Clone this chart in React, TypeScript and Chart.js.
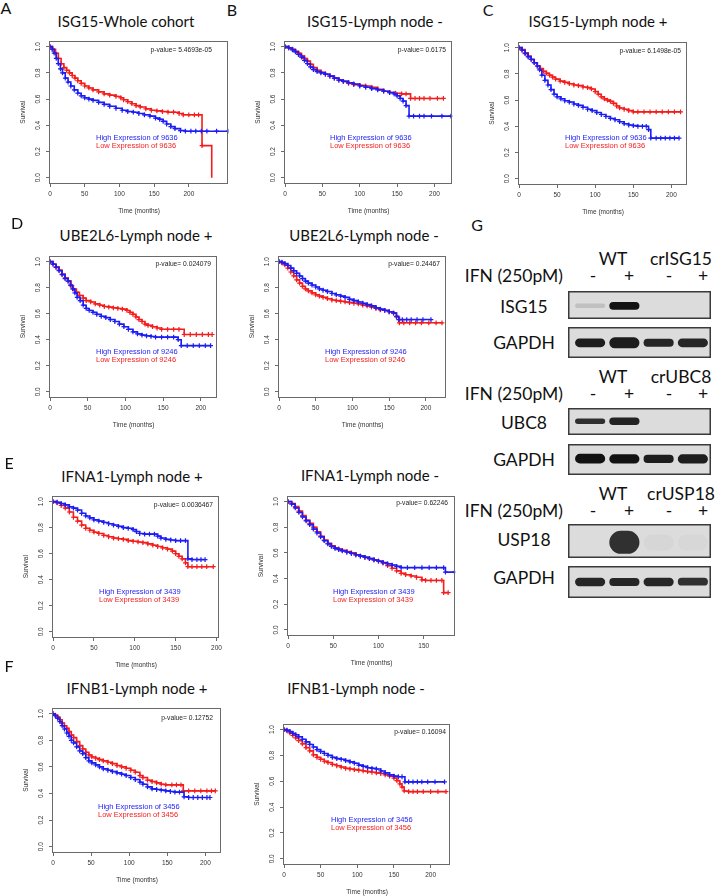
import React, { useEffect, useRef } from 'react';
import { Chart, registerables } from 'chart.js';

Chart.register(...registerables);

type Pt = [number, number];

// ---------- Kaplan-Meier data: [time (months), survival] ----------
const A_HIGH: Pt[] = [[0,1],[3,0.98],[6,0.95],[9,0.91],[12,0.87],[15,0.83],[18,0.8],[22,0.76],[26,0.73],[30,0.7],[35,0.67],[40,0.645],[45,0.625],[50,0.61],[56,0.6],[62,0.59],[70,0.575],[78,0.56],[86,0.545],[95,0.53],[104,0.515],[112,0.505],[120,0.5],[128,0.49],[136,0.48],[144,0.47],[152,0.455],[158,0.445],[163,0.43],[168,0.41],[174,0.39],[180,0.375],[188,0.36],[195,0.355],[203,0.355],[210,0.355],[218,0.355],[226,0.355],[240,0.355],[257,0.355]];
const A_LOW: Pt[] = [[0,1],[4,0.98],[8,0.95],[12,0.91],[16,0.87],[20,0.84],[24,0.82],[28,0.8],[32,0.78],[36,0.76],[40,0.74],[45,0.72],[50,0.7],[56,0.685],[62,0.67],[70,0.655],[78,0.64],[86,0.63],[95,0.62],[102,0.61],[106,0.595],[112,0.58],[118,0.565],[124,0.55],[130,0.54],[138,0.525],[146,0.515],[154,0.51],[162,0.505],[170,0.5],[178,0.5],[186,0.49],[192,0.48],[200,0.48],[208,0.48],[214,0.48],[219,0.245],[233,0]];

const B_HIGH: Pt[] = [[0,1],[5,0.99],[10,0.975],[14,0.96],[18,0.94],[22,0.92],[26,0.895],[30,0.87],[34,0.845],[38,0.825],[43,0.81],[48,0.8],[54,0.79],[60,0.775],[66,0.76],[72,0.745],[78,0.735],[85,0.725],[92,0.715],[100,0.7],[108,0.69],[116,0.68],[124,0.67],[132,0.66],[140,0.65],[146,0.64],[150,0.625],[154,0.605],[158,0.585],[162,0.55],[166,0.47],[172,0.47],[180,0.47],[186,0.47],[196,0.47],[210,0.47],[222,0.47]];
const B_LOW: Pt[] = [[0,1],[5,0.99],[10,0.98],[14,0.965],[18,0.95],[22,0.93],[26,0.91],[30,0.89],[34,0.865],[38,0.84],[43,0.82],[48,0.805],[54,0.79],[60,0.775],[66,0.76],[72,0.745],[78,0.735],[85,0.72],[92,0.71],[100,0.705],[108,0.7],[116,0.69],[124,0.675],[132,0.66],[140,0.65],[148,0.645],[156,0.64],[162,0.64],[168,0.605],[174,0.605],[180,0.605],[186,0.605],[194,0.605],[204,0.605],[212,0.605]];

const C_HIGH: Pt[] = [[0,1],[4,0.98],[8,0.955],[12,0.93],[16,0.91],[20,0.885],[24,0.86],[27,0.83],[30,0.79],[34,0.75],[38,0.715],[42,0.68],[46,0.645],[50,0.625],[55,0.61],[60,0.595],[66,0.585],[72,0.57],[78,0.56],[84,0.545],[90,0.53],[96,0.52],[102,0.505],[108,0.49],[114,0.475],[120,0.46],[126,0.45],[132,0.435],[138,0.42],[144,0.41],[150,0.405],[156,0.4],[162,0.4],[167,0.4],[170,0.375],[173,0.31],[180,0.31],[186,0.31],[192,0.31],[198,0.31],[204,0.31],[210,0.31]];
const C_LOW: Pt[] = [[0,1],[4,0.985],[8,0.96],[12,0.935],[16,0.91],[20,0.885],[24,0.86],[28,0.84],[32,0.82],[36,0.805],[40,0.79],[44,0.775],[48,0.76],[54,0.745],[60,0.735],[66,0.725],[72,0.715],[78,0.71],[84,0.7],[90,0.695],[95,0.685],[100,0.665],[104,0.645],[108,0.625],[112,0.61],[116,0.6],[120,0.59],[124,0.575],[128,0.555],[132,0.54],[138,0.53],[144,0.52],[150,0.51],[156,0.51],[164,0.51],[172,0.51],[180,0.51],[188,0.51],[196,0.51],[204,0.51],[212,0.51]];

const D_HIGH: Pt[] = [[0,1],[4,0.98],[8,0.955],[12,0.93],[16,0.9],[20,0.87],[24,0.85],[27,0.82],[30,0.79],[33,0.76],[36,0.725],[40,0.7],[44,0.665],[48,0.64],[52,0.625],[57,0.61],[62,0.595],[68,0.58],[74,0.57],[80,0.555],[86,0.54],[92,0.52],[98,0.5],[104,0.48],[110,0.46],[116,0.445],[122,0.435],[128,0.43],[134,0.425],[140,0.42],[148,0.42],[156,0.42],[164,0.42],[170,0.4],[174,0.355],[182,0.355],[190,0.355],[198,0.355],[206,0.355],[213,0.355]];
const D_LOW: Pt[] = [[0,1],[4,0.98],[8,0.96],[12,0.935],[16,0.905],[20,0.875],[24,0.85],[28,0.815],[31,0.79],[35,0.765],[39,0.74],[44,0.72],[48,0.7],[54,0.69],[60,0.675],[66,0.665],[72,0.655],[78,0.65],[84,0.645],[90,0.64],[96,0.635],[102,0.625],[106,0.61],[110,0.595],[114,0.575],[118,0.555],[122,0.54],[126,0.52],[130,0.51],[136,0.5],[142,0.49],[148,0.48],[156,0.48],[164,0.48],[171,0.48],[178,0.44],[186,0.44],[194,0.44],[202,0.44],[210,0.44],[215,0.44]];

const D2_HIGH: Pt[] = [[0,1],[4,0.995],[8,0.985],[12,0.97],[16,0.95],[20,0.93],[24,0.91],[28,0.89],[32,0.87],[36,0.85],[40,0.835],[45,0.82],[50,0.805],[55,0.79],[60,0.78],[66,0.77],[72,0.755],[78,0.745],[84,0.735],[90,0.725],[96,0.71],[102,0.7],[108,0.69],[114,0.68],[120,0.67],[126,0.66],[132,0.645],[138,0.635],[144,0.625],[150,0.615],[156,0.605],[160,0.58],[163,0.555],[168,0.555],[174,0.555],[180,0.555],[188,0.555],[196,0.555],[207,0.555]];
const D2_LOW: Pt[] = [[0,1],[4,0.99],[8,0.975],[12,0.95],[16,0.92],[20,0.89],[24,0.86],[28,0.835],[32,0.81],[36,0.79],[40,0.775],[45,0.76],[50,0.745],[55,0.735],[60,0.725],[66,0.715],[72,0.705],[78,0.7],[84,0.695],[90,0.69],[96,0.685],[102,0.68],[108,0.675],[114,0.665],[120,0.66],[126,0.65],[132,0.64],[138,0.63],[144,0.625],[150,0.615],[156,0.605],[160,0.575],[164,0.53],[170,0.53],[178,0.53],[186,0.53],[194,0.53],[204,0.53],[214,0.53],[222,0.53]];

const E1_HIGH: Pt[] = [[0,1],[5,0.995],[10,0.985],[15,0.975],[20,0.96],[25,0.95],[30,0.935],[35,0.91],[40,0.89],[45,0.875],[50,0.86],[56,0.85],[62,0.84],[68,0.83],[74,0.82],[80,0.81],[86,0.8],[92,0.795],[98,0.785],[102,0.77],[106,0.755],[112,0.75],[118,0.75],[124,0.75],[128,0.735],[132,0.72],[138,0.71],[144,0.705],[150,0.7],[156,0.7],[162,0.7],[165,0.56],[170,0.555],[176,0.555],[181,0.555],[186,0.555]];
const E1_LOW: Pt[] = [[0,1],[5,0.99],[10,0.97],[15,0.95],[20,0.92],[25,0.88],[30,0.85],[35,0.82],[40,0.795],[45,0.78],[50,0.765],[56,0.755],[62,0.74],[68,0.73],[74,0.72],[80,0.715],[86,0.71],[92,0.7],[98,0.695],[104,0.69],[110,0.685],[116,0.675],[122,0.665],[128,0.655],[134,0.645],[140,0.635],[146,0.62],[150,0.6],[154,0.58],[158,0.56],[162,0.53],[165,0.5],[170,0.5],[176,0.5],[182,0.5],[188,0.5],[196,0.5]];

const E2_HIGH: Pt[] = [[0,1],[4,0.98],[8,0.95],[12,0.915],[16,0.88],[20,0.85],[24,0.82],[28,0.785],[32,0.755],[36,0.725],[40,0.695],[44,0.67],[48,0.65],[52,0.635],[56,0.625],[60,0.615],[65,0.605],[70,0.595],[75,0.585],[80,0.575],[85,0.565],[90,0.555],[95,0.545],[100,0.535],[105,0.525],[110,0.515],[115,0.505],[120,0.495],[125,0.485],[132,0.485],[140,0.485],[148,0.485],[156,0.485],[164,0.485],[172,0.485],[174,0.45],[184,0.45]];
const E2_LOW: Pt[] = [[0,1],[4,0.985],[8,0.96],[12,0.925],[16,0.89],[20,0.855],[24,0.83],[28,0.8],[32,0.765],[36,0.73],[40,0.7],[44,0.675],[48,0.655],[52,0.64],[56,0.63],[60,0.62],[65,0.61],[70,0.6],[75,0.585],[80,0.575],[85,0.565],[90,0.555],[95,0.545],[100,0.535],[105,0.52],[110,0.5],[115,0.48],[120,0.46],[125,0.44],[130,0.43],[136,0.42],[142,0.41],[148,0.39],[152,0.385],[158,0.385],[164,0.385],[170,0.385],[172,0.29],[177,0.29]];

const F1_HIGH: Pt[] = [[0,1],[3,0.985],[6,0.965],[9,0.94],[12,0.91],[15,0.885],[18,0.855],[21,0.83],[24,0.8],[27,0.78],[31,0.75],[35,0.72],[39,0.7],[43,0.67],[47,0.645],[51,0.63],[56,0.615],[61,0.6],[66,0.585],[72,0.575],[78,0.565],[84,0.555],[90,0.545],[96,0.535],[102,0.52],[108,0.505],[114,0.485],[118,0.47],[124,0.45],[130,0.435],[136,0.43],[142,0.425],[148,0.42],[154,0.415],[160,0.41],[166,0.41],[172,0.375],[178,0.37],[184,0.37],[190,0.37],[196,0.37],[202,0.37],[206,0.37]];
const F1_LOW: Pt[] = [[0,1],[3,0.99],[6,0.975],[9,0.955],[12,0.93],[15,0.91],[18,0.89],[21,0.865],[24,0.84],[27,0.82],[31,0.79],[35,0.76],[39,0.735],[43,0.71],[47,0.69],[51,0.675],[56,0.665],[61,0.655],[66,0.645],[72,0.635],[78,0.625],[84,0.61],[90,0.6],[96,0.59],[102,0.575],[108,0.56],[114,0.535],[118,0.52],[124,0.5],[130,0.49],[136,0.48],[142,0.47],[148,0.465],[156,0.465],[162,0.465],[168,0.465],[171,0.42],[178,0.42],[186,0.42],[194,0.42],[202,0.42],[208,0.42],[213,0.42]];

const F2_HIGH: Pt[] = [[0,1],[4,0.995],[8,0.985],[12,0.97],[16,0.96],[20,0.945],[25,0.925],[30,0.905],[35,0.885],[40,0.865],[45,0.845],[50,0.83],[55,0.815],[60,0.8],[66,0.785],[72,0.775],[78,0.77],[84,0.76],[90,0.75],[96,0.74],[102,0.725],[108,0.715],[114,0.705],[120,0.7],[126,0.695],[132,0.68],[138,0.665],[144,0.65],[150,0.64],[156,0.635],[161,0.635],[165,0.595],[170,0.595],[176,0.595],[182,0.595],[188,0.595],[196,0.595],[206,0.595],[219,0.595]];
const F2_LOW: Pt[] = [[0,1],[4,0.99],[8,0.975],[12,0.955],[16,0.935],[20,0.915],[25,0.89],[30,0.86],[35,0.835],[40,0.805],[45,0.785],[50,0.77],[55,0.755],[60,0.745],[66,0.73],[72,0.72],[78,0.71],[84,0.7],[90,0.695],[96,0.69],[102,0.685],[108,0.68],[114,0.675],[120,0.67],[126,0.665],[132,0.66],[138,0.65],[144,0.64],[150,0.625],[154,0.605],[158,0.58],[161,0.555],[164,0.525],[170,0.52],[176,0.52],[182,0.52],[190,0.52],[200,0.52],[210,0.52],[221,0.52]];

// ---------- tick labels ----------
const Y_TICKS = [0, 0.2, 0.4, 0.6, 0.8, 1.0];
const X_TICKS_200 = [0, 50, 100, 150, 200];
const X_TICKS_150 = [0, 50, 100, 150];

// ---------- Western blot data ----------
const LANES = ['WT -', 'WT +', 'KO -', 'KO +'];
const ISG15_INT = [0.14, 1, 0, 0];
const ISG15_BAND: Pt[] = [[0.38, 0.56], [0.32, 0.62], [0.4, 0.6], [0.4, 0.6]];
const GAPDH1_INT = [0.95, 0.95, 0.9, 0.9];
const GAPDH1_BAND: Pt[] = [[0.34, 0.64], [0.3, 0.68], [0.35, 0.63], [0.34, 0.64]];
const UBC8_INT = [0.85, 0.92, 0, 0];
const UBC8_BAND: Pt[] = [[0.4, 0.62], [0.36, 0.66], [0.4, 0.6], [0.4, 0.6]];
const GAPDH2_INT = [1, 1, 0.95, 0.95];
const GAPDH2_BAND: Pt[] = [[0.36, 0.7], [0.36, 0.68], [0.38, 0.66], [0.36, 0.68]];
const USP18_INT = [0, 0.85, 0.025, 0.02];
const USP18_BAND: Pt[] = [[0.3, 0.6], [0.1, 0.82], [0.2, 0.7], [0.2, 0.7]];
const GAPDH3_INT = [0.9, 0.9, 0.9, 0.85];
const GAPDH3_BAND: Pt[] = [[0.36, 0.64], [0.37, 0.63], [0.36, 0.64], [0.38, 0.64]];

// ---------- styles ----------
const BLUE = '#1c1cf5';
const RED = '#f51c1c';
const AXIS = '#6a6a6a';
const TXT = '#333333';
const SANS = '"Liberation Sans", Arial, sans-serif';
const HEAD = 'Lato, "Open Sans", sans-serif';

interface KMCfg {
  title: string; tx: number; ty: number;
  box: [number, number, number, number];
  xMax: number; xTicks: number[];
  high: Pt[]; low: Pt[]; n: number; p: string;
  pX: number; pY: number; lX: number; lY: number;
}

const PANELS: KMCfg[] = [
  { title: 'ISG15-Whole cohort', tx: 126, ty: 21, box: [50, 36, 230, 183], xMax: 257, xTicks: X_TICKS_200, high: A_HIGH, low: A_LOW, n: 9636, p: '5.4693e-05', pX: 212, pY: 50, lX: 96, lY: 138 },
  { title: 'ISG15-Lymph node -', tx: 375, ty: 21, box: [285, 36, 454, 183], xMax: 224, xTicks: X_TICKS_200, high: B_HIGH, low: B_LOW, n: 9636, p: '0.6175', pX: 446, pY: 50, lX: 330, lY: 138 },
  { title: 'ISG15-Lymph node +', tx: 598, ty: 21, box: [519, 37, 689, 184], xMax: 221, xTicks: X_TICKS_200, high: C_HIGH, low: C_LOW, n: 9636, p: '6.1498e-05', pX: 681, pY: 51, lX: 565, lY: 138 },
  { title: 'UBE2L6-Lymph node +', tx: 136, ty: 235, box: [50, 251, 219, 397], xMax: 222, xTicks: X_TICKS_200, high: D_HIGH, low: D_LOW, n: 9246, p: '0.024079', pX: 211, pY: 264, lX: 96, lY: 352 },
  { title: 'UBE2L6-Lymph node -', tx: 364, ty: 235, box: [279, 251, 448, 397], xMax: 228, xTicks: X_TICKS_200, high: D2_HIGH, low: D2_LOW, n: 9246, p: '0.24467', pX: 440, pY: 264, lX: 325, lY: 352 },
  { title: 'IFNA1-Lymph node +', tx: 132, ty: 476, box: [53, 491, 223, 637], xMax: 203, xTicks: X_TICKS_200, high: E1_HIGH, low: E1_LOW, n: 3439, p: '0.0036467', pX: 213, pY: 505, lX: 99, lY: 592 },
  { title: 'IFNA1-Lymph node -', tx: 370, ty: 475, box: [288, 491, 457, 635], xMax: 185, xTicks: X_TICKS_150, high: E2_HIGH, low: E2_LOW, n: 3439, p: '0.62246', pX: 448, pY: 503, lX: 333, lY: 592 },
  { title: 'IFNB1-Lymph node +', tx: 137, ty: 688, box: [53, 703, 223, 852], xMax: 221, xTicks: X_TICKS_200, high: F1_HIGH, low: F1_LOW, n: 3456, p: '0.12752', pX: 213, pY: 718, lX: 98, lY: 807 },
  { title: 'IFNB1-Lymph node -', tx: 356, ty: 688, box: [284, 719, 452, 864], xMax: 227, xTicks: X_TICKS_200, high: F2_HIGH, low: F2_LOW, n: 3456, p: '0.16094', pX: 446, pY: 732, lX: 331, lY: 820 },
];

function curve(pts: Pt[], color: string) {
  return {
    data: pts.map(([x, y]) => ({ x, y })),
    borderColor: color,
    backgroundColor: color,
    borderWidth: 1.6,
    stepped: 'before' as const,
    fill: false,
    pointStyle: 'cross' as const,
    pointRadius: (c: any) => (c.raw && c.raw.y <= 0.001 ? 0 : 2.4),
    pointBorderWidth: 1.2,
    pointBorderColor: color,
    pointHoverRadius: 0,
  };
}

function KM({ cfg }: { cfg: KMCfg }) {
  const ref = useRef<HTMLCanvasElement>(null);
  const [l, t, r, b] = cfg.box;
  const cl = l - 32;
  const ct = t - 2;
  const w = r - l + 34;
  const h = b - t + 38;
  useEffect(() => {
    if (!ref.current) return;
    const decor = {
      id: 'kmDecor',
      afterDraw(chart: any) {
        const { ctx, chartArea: a } = chart;
        ctx.save();
        ctx.strokeStyle = AXIS;
        ctx.lineWidth = 1;
        ctx.strokeRect(Math.round(a.left) - 0.5, Math.round(a.top) + 0.5, Math.round(a.right - a.left), Math.round(a.bottom - a.top));
        ctx.textBaseline = 'middle';
        ctx.font = `6.7px ${SANS}`;
        ctx.fillStyle = '#222';
        ctx.textAlign = 'right';
        ctx.fillText('p-value= ' + cfg.p, cfg.pX - cl, cfg.pY - ct);
        ctx.font = `7.5px ${SANS}`;
        ctx.textAlign = 'left';
        ctx.fillStyle = BLUE;
        ctx.fillText(`High Expression of ${cfg.n}`, cfg.lX - cl, cfg.lY - ct);
        ctx.fillStyle = RED;
        ctx.fillText(`Low Expression of ${cfg.n}`, cfg.lX - cl, cfg.lY + 8 - ct);
        ctx.restore();
      },
    };
    const tickFont = { family: SANS, size: 6.5 };
    const chart = new Chart(ref.current, {
      type: 'line',
      data: { datasets: [curve(cfg.high, BLUE), curve(cfg.low, RED)] as any },
      options: {
        responsive: false,
        animation: false,
        events: [],
        layout: { padding: { left: 0, top: 2, right: 2, bottom: 0 } },
        plugins: { legend: { display: false }, tooltip: { enabled: false } },
        scales: {
          x: {
            type: 'linear', min: 0, max: cfg.xMax,
            afterBuildTicks: (s: any) => { s.ticks = cfg.xTicks.map((v) => ({ value: v })); },
            afterFit: (s: any) => { s.height = 36; },
            grid: { display: true, drawOnChartArea: false, drawTicks: true, tickLength: 4, color: AXIS, tickColor: AXIS },
            border: { display: false },
            ticks: { font: tickFont, color: TXT, padding: 3, maxRotation: 0, autoSkip: false, callback: (v: any) => String(v) },
            title: { display: true, text: 'Time (months)', font: tickFont, color: TXT, padding: { top: 0, bottom: 4 } },
          },
          y: {
            type: 'linear', min: -0.04, max: 1.04,
            afterBuildTicks: (s: any) => { s.ticks = Y_TICKS.map((v) => ({ value: v })); },
            afterFit: (s: any) => { s.width = 32; },
            grid: { display: true, drawOnChartArea: false, drawTicks: true, tickLength: 4, color: AXIS, tickColor: AXIS },
            border: { display: false },
            ticks: { font: tickFont, color: TXT, padding: 3.5, minRotation: 90, maxRotation: 90, crossAlign: 'center', autoSkip: false, callback: (v: any) => Number(v).toFixed(1) },
            title: { display: true, text: 'Survival', font: tickFont, color: TXT, padding: { top: 1, bottom: 0 } },
          },
        },
      } as any,
      plugins: [decor],
    });
    return () => chart.destroy();
  }, []);
  return (
    <>
      <canvas ref={ref} width={w} height={h} style={{ position: 'absolute', left: cl, top: ct, width: w, height: h }} />
      <div style={{ position: 'absolute', left: cfg.tx, top: cfg.ty, transform: 'translate(-50%, -50%)', font: `15px ${HEAD}`, color: '#111', whiteSpace: 'nowrap', lineHeight: 1 }}>{cfg.title}</div>
    </>
  );
}

interface BlotCfg { top: number; height: number; intensity: number[]; bands: Pt[] }

const BLOT_LEFT = 568;
const BLOT_W = 143;

function Blot({ cfg }: { cfg: BlotCfg }) {
  const ref = useRef<HTMLCanvasElement>(null);
  useEffect(() => {
    if (!ref.current) return;
    const bg = {
      id: 'blotBg',
      beforeDraw(chart: any) {
        const { ctx, width, height } = chart;
        ctx.save();
        ctx.fillStyle = '#dcdcdc';
        ctx.fillRect(0, 0, width, height);
        ctx.restore();
      },
      afterDraw(chart: any) {
        const { ctx, width, height } = chart;
        ctx.save();
        ctx.strokeStyle = '#3a3a3a';
        ctx.lineWidth = 1.5;
        ctx.strokeRect(0.75, 0.75, width - 1.5, height - 1.5);
        ctx.restore();
      },
    };
    const chart = new Chart(ref.current, {
      type: 'bar',
      data: {
        labels: LANES,
        datasets: [{
          data: cfg.bands as any,
          backgroundColor: cfg.intensity.map((a) => `rgba(18,18,18,${a})`),
          borderWidth: 0,
          borderRadius: 40,
          borderSkipped: false,
          barPercentage: 0.88,
          categoryPercentage: 1,
        }],
      },
      options: {
        responsive: false,
        animation: false,
        events: [],
        layout: { padding: { left: 5, right: 1, top: 1, bottom: 1 } },
        plugins: { legend: { display: false }, tooltip: { enabled: false } },
        scales: { x: { display: false }, y: { display: false, min: 0, max: 1 } },
      } as any,
      plugins: [bg],
    });
    return () => chart.destroy();
  }, []);
  return <canvas ref={ref} width={BLOT_W} height={cfg.height} style={{ position: 'absolute', left: BLOT_LEFT, top: cfg.top, width: BLOT_W, height: cfg.height }} />;
}

const BLOTS: BlotCfg[] = [
  { top: 291, height: 28, intensity: ISG15_INT, bands: ISG15_BAND },
  { top: 327, height: 31, intensity: GAPDH1_INT, bands: GAPDH1_BAND },
  { top: 408, height: 27, intensity: UBC8_INT, bands: UBC8_BAND },
  { top: 444, height: 31, intensity: GAPDH2_INT, bands: GAPDH2_BAND },
  { top: 524, height: 34, intensity: USP18_INT, bands: USP18_BAND },
  { top: 566, height: 32, intensity: GAPDH3_INT, bands: GAPDH3_BAND },
];

function Txt({ x, y, children, size = 17.5, align = 'center' }: { x: number; y: number; children: React.ReactNode; size?: number; align?: 'center' | 'right' }) {
  const tx = align === 'center' ? '-50%' : '-100%';
  return (
    <div style={{ position: 'absolute', left: x, top: y, transform: `translate(${tx}, -50%)`, font: `${size}px ${HEAD}`, color: '#111', whiteSpace: 'nowrap', lineHeight: 1 }}>{children}</div>
  );
}

const LETTERS: [string, number, number][] = [
  ['A', 6, 8], ['B', 232, 10], ['C', 488, 10], ['D', 17, 223], ['E', 9, 463], ['F', 9, 666], ['G', 477, 225],
];

const WB_HEADERS: [string, number][] = [['crISG15', 259], ['crUBC8', 377], ['crUSP18', 494]];
const WB_PROTEINS: [string, number][] = [['ISG15', 307], ['GAPDH', 343], ['UBC8', 423], ['GAPDH', 460], ['USP18', 540], ['GAPDH', 578]];
const SIGNS = ['-', '+', '-', '+'];
const SIGN_X = [593, 629, 669, 703];

export default function App() {
  return (
    <div style={{ position: 'absolute', left: 0, top: 0, width: 716, height: 896, background: '#fff', overflow: 'hidden' }}>
      {PANELS.map((p, i) => <KM key={i} cfg={p} />)}
      {LETTERS.map(([s, x, y]) => <Txt key={s} x={x} y={y} size={16}>{s}</Txt>)}
      {WB_HEADERS.map(([name, y]) => (
        <React.Fragment key={name}>
          <Txt x={613} y={y}>WT</Txt>
          <Txt x={681} y={y}>{name}</Txt>
          <Txt x={563} y={y + 17} align="right">IFN (250pM)</Txt>
          {SIGNS.map((s, j) => <Txt key={j} x={SIGN_X[j]} y={y + 17}>{s}</Txt>)}
        </React.Fragment>
      ))}
      {WB_PROTEINS.map(([name, y], i) => <Txt key={i} x={524} y={y}>{name}</Txt>)}
      {BLOTS.map((b, i) => <Blot key={i} cfg={b} />)}
    </div>
  );
}
